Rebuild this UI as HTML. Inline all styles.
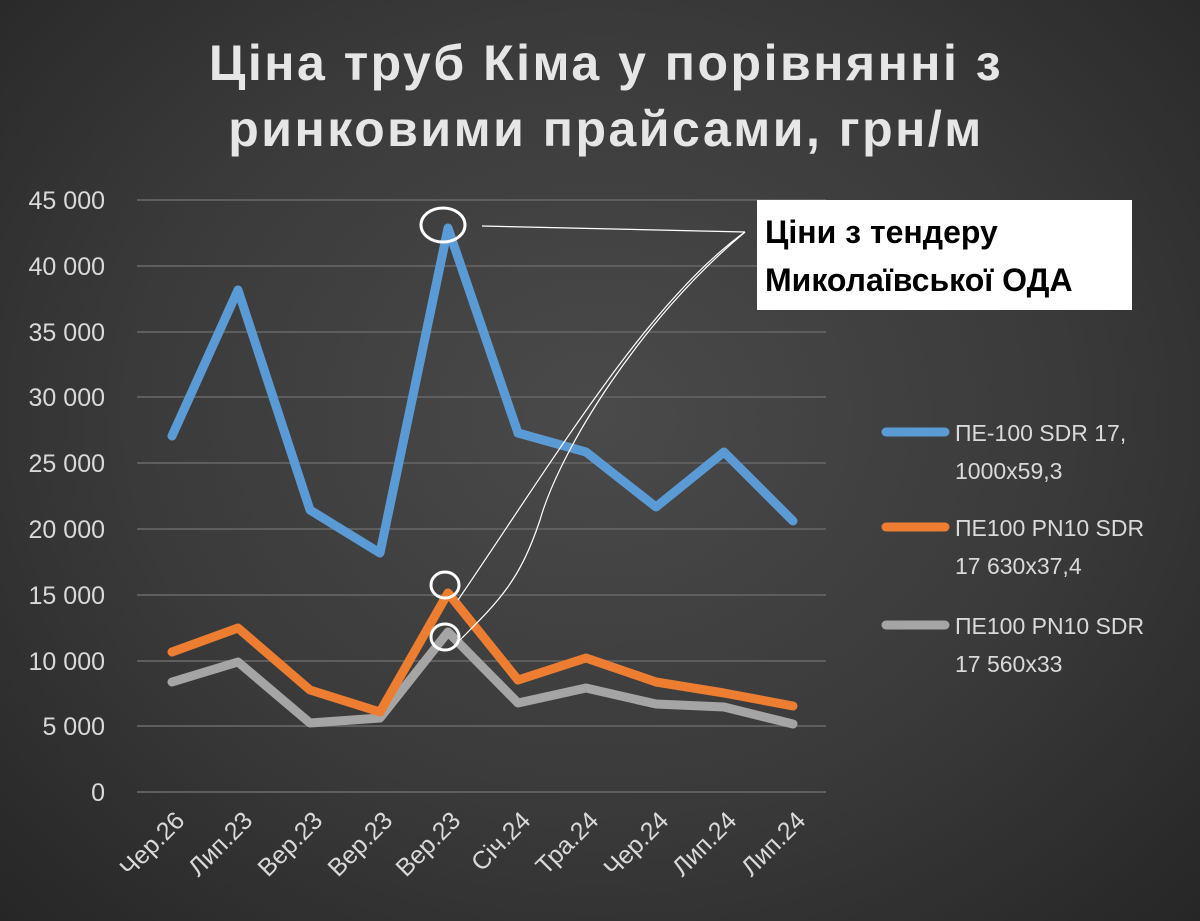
<!DOCTYPE html>
<html><head><meta charset="utf-8"><style>
body{margin:0;width:1200px;height:921px;overflow:hidden;background:radial-gradient(ellipse at 50% 45%,#4a4a4a 0%,#3a3a3a 55%,#262626 100%);font-family:"Liberation Sans","DejaVu Sans",sans-serif}
</style></head><body>
<svg width="1200" height="921" viewBox="0 0 1200 921" xmlns="http://www.w3.org/2000/svg" style="position:absolute;left:0;top:0">
<g font-family="Liberation Sans, DejaVu Sans, sans-serif" font-weight="bold" font-size="50" fill="#e6e6e6" text-anchor="middle" letter-spacing="2.5">
<text x="606" y="80">Ціна труб Кіма у порівнянні з</text>
<text x="606" y="146">ринковими прайсами, грн/м</text>
</g>
<g stroke="#5e5e5e" stroke-width="2">
<line x1="137" x2="826" y1="200" y2="200"/><line x1="137" x2="826" y1="266" y2="266"/>
<line x1="137" x2="826" y1="332" y2="332"/><line x1="137" x2="826" y1="397" y2="397"/>
<line x1="137" x2="826" y1="463" y2="463"/><line x1="137" x2="826" y1="529" y2="529"/>
<line x1="137" x2="826" y1="595" y2="595"/><line x1="137" x2="826" y1="661" y2="661"/>
<line x1="137" x2="826" y1="726" y2="726"/><line x1="137" x2="826" y1="792" y2="792"/>
</g>
<g fill="#d9d9d9" font-size="25" text-anchor="end">
<text x="105" y="209">45 000</text><text x="105" y="275">40 000</text><text x="105" y="341">35 000</text>
<text x="105" y="406">30 000</text><text x="105" y="472">25 000</text><text x="105" y="538">20 000</text>
<text x="105" y="604">15 000</text><text x="105" y="670">10 000</text><text x="105" y="735">5 000</text>
<text x="105" y="801">0</text>
</g>
<g fill="#d9d9d9" font-size="25" text-anchor="end">
<text transform="translate(186,822) rotate(-45)">Чер.26</text>
<text transform="translate(254,822) rotate(-45)">Лип.23</text>
<text transform="translate(324,822) rotate(-45)">Вер.23</text>
<text transform="translate(394,822) rotate(-45)">Вер.23</text>
<text transform="translate(462,822) rotate(-45)">Вер.23</text>
<text transform="translate(532,822) rotate(-45)">Січ.24</text>
<text transform="translate(600,822) rotate(-45)">Тра.24</text>
<text transform="translate(670,822) rotate(-45)">Чер.24</text>
<text transform="translate(738,822) rotate(-45)">Лип.24</text>
<text transform="translate(807,822) rotate(-45)">Лип.24</text>
</g>
<g fill="none" stroke-width="9" stroke-linejoin="round" stroke-linecap="round">
<polyline stroke="#a5a5a5" points="172,682 238,662 310,723 380,718 448,632 518,703 586,688 656,704 724,707 793,724"/>
<polyline stroke="#ed7d31" points="172,652 238,628 310,690 380,712 448,593 518,680 586,658 656,682 724,693 793,706"/>
<polyline stroke="#5b9bd5" points="172,436 238,290 310,510 380,553 448,228 518,433 586,452 656,507 724,452 793,521"/>
</g>
<g fill="none" stroke="#fff" stroke-width="3">
<ellipse cx="443" cy="225" rx="22" ry="17"/>
<ellipse cx="445" cy="585" rx="14" ry="13"/>
<ellipse cx="445" cy="637" rx="14" ry="13"/>
</g>
<g fill="none" stroke="#fff" stroke-width="1.2">
<path d="M482,226 L745,232"/>
<path d="M745,232 C650,300 560,450 458,600"/>
<path d="M745,232 C640,320 560,450 540,520 C520,580 500,600 460,640"/>
</g>
<rect x="757" y="200" width="375" height="110" fill="#fff"/>
<g font-family="Liberation Sans, DejaVu Sans, sans-serif" font-weight="bold" font-size="32" fill="#000">
<text x="765" y="243">Ціни з тендеру</text>
<text x="765" y="291">Миколаївської ОДА</text>
</g>
<g stroke-width="9" stroke-linecap="round">
<line x1="886" x2="945" y1="432" y2="432" stroke="#5b9bd5"/>
<line x1="886" x2="945" y1="527" y2="527" stroke="#ed7d31"/>
<line x1="886" x2="945" y1="625" y2="625" stroke="#a5a5a5"/>
</g>
<g fill="#d9d9d9" font-size="23">
<text x="955" y="441">ПЕ-100 SDR 17,</text><text x="955" y="479">1000x59,3</text>
<text x="955" y="536">ПЕ100 PN10 SDR</text><text x="955" y="574">17 630x37,4</text>
<text x="955" y="634">ПЕ100 PN10 SDR</text><text x="955" y="672">17 560x33</text>
</g>
</svg>
</body></html>
